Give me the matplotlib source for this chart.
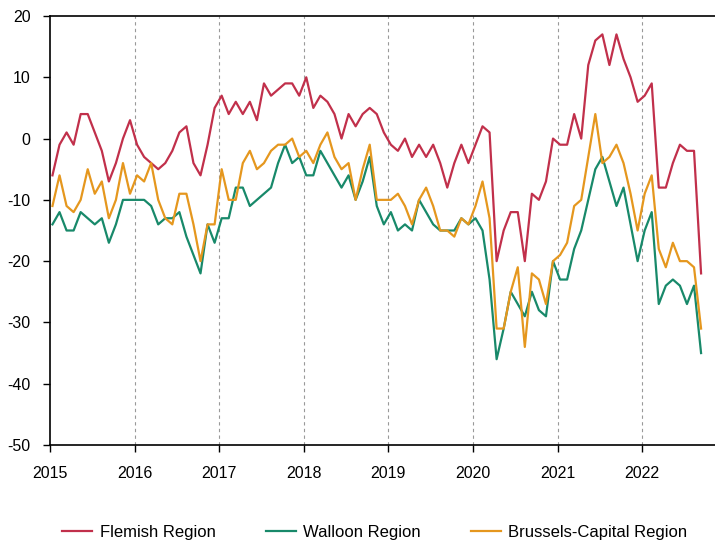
import matplotlib.pyplot as plt

plt.rcParams['font.family'] = ['Liberation Sans', 'DejaVu Sans']
plt.rcParams['axes.unicode_minus'] = False

# monthly values, Jan 2015 .. Sep 2022
flemish = [-6, -1, 1, -1, 4, 4, 1, -2, -7, -4, 0, 3,
           -1, -3, -4, -5, -4, -2, 1, 2, -4, -6, -1, 5,
           7, 4, 6, 4, 6, 3, 9, 7, 8, 9, 9, 7,
           10, 5, 7, 6, 4, 0, 4, 2, 4, 5, 4, 1,
           -1, -2, 0, -3, -1, -3, -1, -4, -8, -4, -1, -4,
           -1, 2, 1, -20, -15, -12, -12, -20, -9, -10, -7, 0,
           -1, -1, 4, 0, 12, 16, 17, 12, 17, 13, 10, 6,
           7, 9, -8, -8, -4, -1, -2, -2, -22]
walloon = [-14, -12, -15, -15, -12, -13, -14, -13, -17, -14, -10, -10,
           -10, -10, -11, -14, -13, -13, -12, -16, -19, -22, -14, -17,
           -13, -13, -8, -8, -11, -10, -9, -8, -4, -1, -4, -3,
           -6, -6, -2, -4, -6, -8, -6, -10, -7, -3, -11, -14,
           -12, -15, -14, -15, -10, -12, -14, -15, -15, -15, -13, -14,
           -13, -15, -23, -36, -31, -25, -27, -29, -25, -28, -29, -20,
           -23, -23, -18, -15, -10, -5, -3, -7, -11, -8, -14, -20,
           -15, -12, -27, -24, -23, -24, -27, -24, -35]
brussels = [-11, -6, -11, -12, -10, -5, -9, -7, -13, -10, -4, -9,
            -6, -7, -4, -10, -13, -14, -9, -9, -14, -20, -14, -14,
            -5, -10, -10, -4, -2, -5, -4, -2, -1, -1, 0, -3,
            -2, -4, -1, 1, -3, -5, -4, -10, -5, -1, -10, -10,
            -10, -9, -11, -14, -10, -8, -11, -15, -15, -16, -13, -14,
            -11, -7, -13, -31, -31, -25, -21, -34, -22, -23, -27, -20,
            -19, -17, -11, -10, -3, 4, -4, -3, -1, -4, -9, -15,
            -9, -6, -18, -21, -17, -20, -20, -21, -31]
years = list(range(2015, 2023))

x = [2015 + (i + 0.35) / 12 for i in range(len(flemish))]

fig = plt.figure(figsize=(7.15, 5.41), dpi=100)
ax = fig.add_axes([50 / 715, 1 - 445 / 541, 1 - 50 / 715, (445 - 16) / 541])

for yr in years[1:]:
    ax.axvline(yr, color='#999999', lw=0.8, linestyle=(0, (3, 3)), zorder=1)

ax.plot(x, flemish, color='#C1304B', lw=1.6, label='Flemish Region', zorder=3)
ax.plot(x, walloon, color='#18896A', lw=1.6, label='Walloon Region', zorder=3)
ax.plot(x, brussels, color='#E5971E', lw=1.6, label='Brussels-Capital Region', zorder=3)

ax.set_xlim(2015, 2015 + 665 / 84.6)
ax.set_ylim(-50, 20)
ax.set_xticks(years)
ax.set_xticklabels([str(y) for y in years])
ax.set_yticks(range(-50, 21, 10))

ax.spines['right'].set_visible(False)
for s in ['left', 'bottom', 'top']:
    ax.spines[s].set_linewidth(1.2)
ax.tick_params(axis='both', direction='out', length=5, width=1, labelsize=11.5)
ax.tick_params(axis='x', pad=10)
ax.tick_params(axis='y', pad=9)

fig.legend(loc='center', bbox_to_anchor=(375 / 715, 1 - 532 / 541), ncol=3,
           frameon=False, fontsize=12, handlelength=1.8, handletextpad=0.45,
           columnspacing=3.0)

fig.savefig('out.png', dpi=100)
